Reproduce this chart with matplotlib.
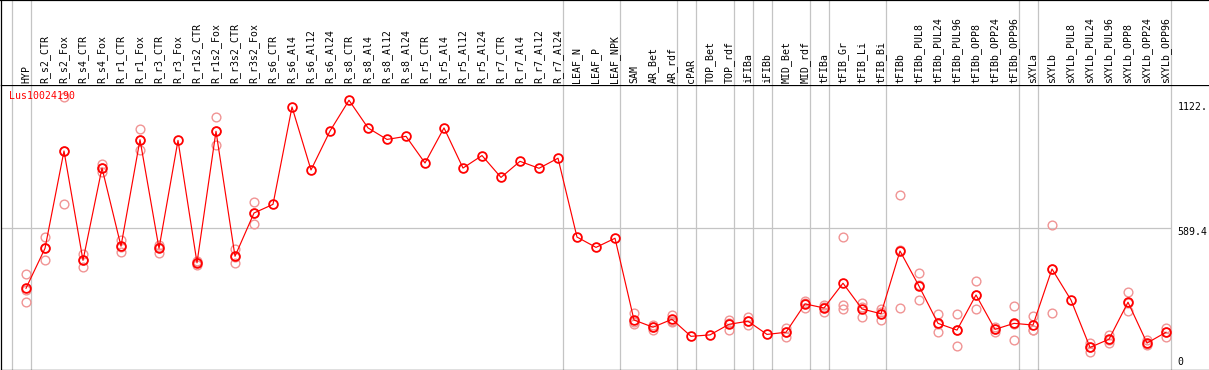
import matplotlib
matplotlib.use('Agg')
import matplotlib.pyplot as plt
import numpy as np
from matplotlib.transforms import blended_transform_factory

# ---------------- data ----------------
gene = 'Lus10024190'

samples = ['HYP', 'R_s2_CTR', 'R_s2_Fox', 'R_s4_CTR', 'R_s4_Fox', 'R_r1_CTR', 'R_r1_Fox',
           'R_r3_CTR', 'R_r3_Fox', 'R_r1s2_CTR', 'R_r1s2_Fox', 'R_r3s2_CTR', 'R_r3s2_Fox',
           'R_s6_CTR', 'R_s6_Al4', 'R_s6_Al12', 'R_s6_Al24', 'R_s8_CTR', 'R_s8_Al4',
           'R_s8_Al12', 'R_s8_Al24', 'R_r5_CTR', 'R_r5_Al4', 'R_r5_Al12', 'R_r5_Al24',
           'R_r7_CTR', 'R_r7_Al4', 'R_r7_Al12', 'R_r7_Al24', 'LEAF_N', 'LEAF_P', 'LEAF_NPK',
           'SAM', 'AR_Bet', 'AR_rdf', 'cPAR', 'TOP_Bet', 'TOP_rdf', 'iFIBa', 'iFIBb',
           'MID_Bet', 'MID_rdf', 'tFIBa', 'tFIB_Gr', 'tFIB_Li', 'tFIB_Bi', 'tFIBb',
           'tFIBb_PUL8', 'tFIBb_PUL24', 'tFIBb_PUL96', 'tFIBb_OPP8', 'tFIBb_OPP24',
           'tFIBb_OPP96', 'sXYLa', 'sXYLb', 'sXYLb_PUL8', 'sXYLb_PUL24', 'sXYLb_PUL96',
           'sXYLb_OPP8', 'sXYLb_OPP24', 'sXYLb_OPP96']

mean_expr = [340, 506, 911, 456, 840, 515, 958, 506, 955, 446, 993, 473, 653,
             689, 1094, 832, 994, 1122, 1007, 959, 972, 861, 1007, 840, 892,
             801, 868, 839, 881, 553, 510, 548,
             208, 178, 211, 140, 146, 190, 203, 148,
             157, 275, 258, 361, 254, 234, 495,
             349, 194, 166, 312, 169, 194,
             187, 420, 291, 94, 128, 282, 112, 157]

nan = float('nan')
rep_a = [399, 553, 1134, 483, 856, 542, 1001, 521, nan, 453, 1051, 505, 698,
         nan, nan, nan, nan, nan, nan, nan, nan, nan, nan, nan, nan,
         nan, nan, nan, nan, nan, nan, nan,
         236, 189, 227, nan, nan, 208, 219, nan,
         175, 286, 272, 552, 280, 252, 728,
         402, 233, 233, 370, 180, 266,
         225, 602, nan, 114, 144, 323, 124, 176]
rep_b = [282, 459, 689, 430, 824, 490, 916, 488, nan, 435, 935, 444, 606,
         nan, nan, nan, nan, nan, nan, nan, nan, nan, nan, nan, nan,
         nan, nan, nan, nan, nan, nan, nan,
         198, 166, 201, nan, nan, 168, 186, nan,
         139, 258, 241, 269, 219, 207, 258,
         291, 159, 99, 254, 157, 123,
         168, 236, nan, 75, 114, 244, 107, 139]
rep_c = [334, 506, 910, 456, 840, 513, 957, 510, nan, 451, 993, 470, 655,
         nan, nan, nan, nan, nan, nan, nan, nan, nan, nan, nan, nan,
         nan, nan, nan, nan, nan, nan, nan,
         190, 178, 205, nan, nan, 194, 203, nan,
         157, 280, 260, 255, 262, 243, 499,
         355, 190, 167, 312, 170, 193,
         168, 422, nan, 94, 126, 279, 106, 156]

# indices where a new sample group starts (column separators)
group_breaks = [0, 1, 29, 32, 35, 36, 38, 39, 40, 42, 43, 46, 53, 54, 61]

y_ticks = [1122, 589.4, 0]
y_tick_labels = ['1122.', '589.4', '0']

# ---------------- layout ----------------
W, H = 1209, 370
fig = plt.figure(figsize=(W / 100, H / 100), dpi=100)
FONT = 'DejaVu Sans Mono'
FS = 7.1

head_px = 85
left_px = 1
ax = fig.add_axes([left_px / W, 0.5 / H, (W - left_px) / W, (H - head_px - 0.5) / H])
axh = fig.add_axes([left_px / W, (H - head_px) / H, (W - left_px) / W, head_px / H], sharex=ax)

x = np.arange(len(samples))
# x scale: column k at pixel 26 + 19k
ax.set_xlim((left_px - 26) / 19, (W - 26) / 19)
# y scale: 0 at pixel 370, 589.4 at pixel 228.3
upp = 589.4 / (370 - 228.3)
ax.set_ylim((370 - 369.5) * upp, (370 - head_px) * upp)
axh.set_ylim(0, 1)

for a in (ax, axh):
    a.set_xticks([])
    a.set_yticks([])
    a.tick_params(length=0)
    for s in a.spines.values():
        s.set_color('black')
        s.set_linewidth(0.9)
    a.spines['right'].set_visible(False)
axh.spines['bottom'].set_visible(False)
axh.spines['top'].set_linewidth(1.6)

gray = '#c4c4c4'
sep_x = [b - 0.75 for b in group_breaks]
for sx in sep_x:
    ax.axvline(sx, color=gray, lw=0.9, zorder=0)
    axh.axvline(sx, color=gray, lw=0.9, zorder=0)

ax.hlines(589.4, ax.get_xlim()[0], sep_x[-1], color=gray, lw=0.9, zorder=0)

# replicates
rep_color = '#f09494'
for rep in (rep_a, rep_b, rep_c):
    ax.plot(x, rep, ls='none', marker='o', ms=6.3, mfc='none', mec=rep_color,
            mew=1.0, zorder=2)

# mean line
ax.plot(x, mean_expr, color='#ff0000', lw=0.85, marker='o', ms=6.3, mfc='none',
        mec='#ff0000', mew=1.3, zorder=3)

# header labels
trh = blended_transform_factory(axh.transData, axh.transAxes)
for i, s in enumerate(samples):
    axh.annotate(s, xy=(i, 0), xycoords=trh, xytext=(0, 2), textcoords='offset pixels',
                 rotation=90, ha='center', va='bottom', fontsize=FS, family=FONT,
                 color='black')

# gene label
ax.annotate(gene, xy=(0, 1), xycoords='axes fraction', xytext=(8, -11),
            textcoords='offset pixels', ha='left', va='center', fontsize=FS,
            family=FONT, color='#ff0000')

# right value labels
offs = [-7, -4, 8]
for v, lab, o in zip(y_ticks, y_tick_labels, offs):
    ax.annotate(lab, xy=(sep_x[-1], v), xycoords='data', xytext=(7, o),
                textcoords='offset pixels', ha='left', va='center', fontsize=FS,
                family=FONT, color='black')

fig.savefig('out.png', dpi=100)
